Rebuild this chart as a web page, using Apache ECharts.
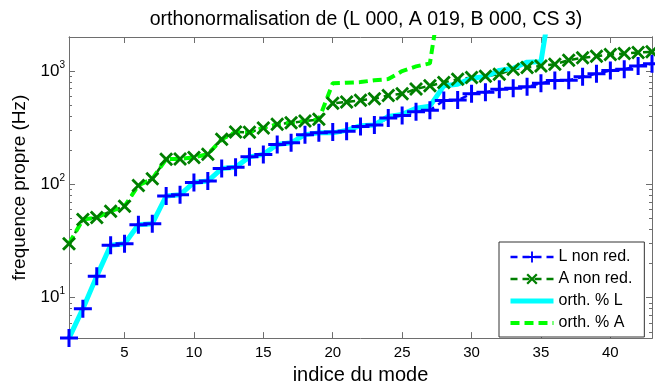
<!DOCTYPE html>
<html>
<head>
<meta charset="utf-8">
<script src="https://cdn.jsdelivr.net/npm/echarts@6/dist/echarts.min.js"></script>
<style>
html, body { margin: 0; padding: 0; background: #fff; }
#chart { width: 655px; height: 390px; }
</style>
</head>
<body>
<div id="chart"></div>
<script>
// indice du mode
var modes = [1, 2, 3, 4, 5, 6, 7, 8, 9, 10, 11, 12, 13, 14, 15, 16, 17, 18, 19, 20, 21,
    22, 23, 24, 25, 26, 27, 28, 29, 30, 31, 32, 33, 34, 35, 36, 37, 38, 39, 40, 41, 42, 43];
// frequences propres (Hz)
var lNonRed = [4.4, 8.0, 15.5, 29, 30, 44, 45, 79, 81, 104, 107, 138, 142, 175, 184, 225, 233, 275, 285, 290, 295,
    325, 335, 385, 405, 437, 451, 550, 555, 630, 650, 690, 705, 727, 780, 827, 830, 890, 950, 1010, 1040, 1110, 1160];
var aNonRed = [30, 49, 51, 58, 64, 98, 112, 167, 168, 173, 185, 250, 290, 288, 315, 340, 350, 362, 375, 520, 535,
    552, 570, 610, 630, 695, 742, 793, 847, 876, 900, 940, 1040, 1075, 1110, 1150, 1250, 1310, 1350, 1400, 1430, 1460, 1480];
var orthL = [4.4, 8.0, 15.5, 29, 30, 44, 45, 79, 81, 104, 107, 138, 142, 175, 184, 225, 233, 275, 285, 285, 300,
    330, 335, 398, 415, 470, 490, 742, 767, 865, 895, 1015, 1060, 1200, 1210, 7000, 8000, 9000, 10000, 11000, 12000, 13000, 14000];
var orthA = [30, 49, 51, 58, 64, 98, 112, 167, 168, 173, 185, 250, 290, 288, 315, 340, 350, 362, 375, 780, 790,
    800, 830, 850, 1000, 1100, 1170, 7200, 9000, 10000, 11000, 12000, 13000, 14000, 15000, 16000, 17000, 18000, 19000, 20000, 21000, 22000, 23000];

var xTicks = [5, 10, 15, 20, 25, 30, 35, 40];
var yTicks = [10, 100, 1000];
var yMinorTicks = [5, 6, 7, 8, 9, 20, 30, 40, 50, 60, 70, 80, 90, 200, 300, 400, 500, 600, 700, 800, 900];

var font = 'Liberation Sans, Arial, sans-serif';
var axisGray = '#6e6e6e';

function pairs(vals) {
    return modes.map(function (m, i) { return [m, vals[i]]; });
}

var chart = echarts.init(document.getElementById('chart'));

//  axes: bottom/left with labels, top/right mirrored like matlab "box on"
function xAxis(pos, labels) {
    return {
        type: 'value', position: pos, min: 1, max: 43,
        axisLine: { show: true, onZero: false, lineStyle: { color: axisGray, width: 1 } },
        axisTick: { show: true, inside: true, length: 6, customValues: xTicks, lineStyle: { color: axisGray } },
        axisLabel: { show: labels, customValues: xTicks, margin: 7, fontSize: 15, color: '#000', fontFamily: font },
        splitLine: { show: false }
    };
}
function yAxis(pos, ticks, len, labels) {
    return {
        type: 'log', logBase: 10, position: pos, min: 4.4, max: 2000,
        axisLine: { show: true, onZero: false, lineStyle: { color: axisGray, width: 1 } },
        axisTick: { show: true, inside: true, length: len, customValues: ticks, lineStyle: { color: axisGray } },
        axisLabel: {
            show: labels, customValues: ticks, margin: 4, color: '#000', fontFamily: font,
            formatter: function (v) {
                return '{b|10}{e|' + Math.round(Math.log(v) / Math.LN10) + '}';
            },
            rich: {
                b: { fontSize: 17, fontFamily: font, color: '#000' },
                e: { fontSize: 10, fontFamily: font, color: '#000', padding: [0, 0, 12, 0] }
            }
        },
        splitLine: { show: false }
    };
}

var xa = xAxis('bottom', true);
xa.name = 'indice du mode';
xa.nameLocation = 'middle';
xa.nameGap = 24;
xa.nameTextStyle = { fontSize: 20, color: '#000', fontFamily: font };

var ya = yAxis('left', yTicks, 6, true);
ya.name = 'frequence propre (Hz)';
ya.nameLocation = 'middle';
ya.nameGap = 36;
ya.nameTextStyle = { fontSize: 19, color: '#000', fontFamily: font };

var plusPath = 'path://M0,7.5H18V10.5H0Z M7.5,0H10.5V18H7.5Z';
var crossPath = 'path://M0,2L2,0L7,5L12,0L14,2L9,7L14,12L12,14L7,9L2,14L0,12L5,7Z';

var option = {
    animation: false,
    backgroundColor: '#fff',
    title: {
        text: 'orthonormalisation de (L 000, A 019, B 000, CS 3)',
        left: 361, top: 5, textAlign: 'center',
        textStyle: { fontSize: 19.5, fontWeight: 'normal', color: '#000', fontFamily: font }
    },
    grid: { left: 69, right: 3, top: 37, bottom: 46, containLabel: false },
    legend: {
        orient: 'vertical', left: 499, top: 242,
        itemWidth: 43, itemHeight: 14, itemGap: 6, itemTextGap: 9,
        padding: [7, 12, 6, 9],
        borderColor: '#333', borderWidth: 1, backgroundColor: '#fff',
        textStyle: { fontSize: 16, color: '#000', fontFamily: font },
        data: [
            { name: 'L non red.', lineStyle: { width: 2.5 } },
            { name: 'A non red.', lineStyle: { width: 2.5 } },
            { name: 'orth. % L', itemStyle: { opacity: 0 }, lineStyle: { width: 5 } },
            { name: 'orth. % A', itemStyle: { opacity: 0 }, lineStyle: { width: 4 } }
        ]
    },
    xAxis: [xa, xAxis('top', false)],
    yAxis: [ya, yAxis('left', yMinorTicks, 3, false), yAxis('right', yTicks, 6, false), yAxis('right', yMinorTicks, 3, false)],
    series: [
        {
            name: 'L non red.', type: 'line', data: pairs(lNonRed),
            symbol: plusPath, symbolSize: 18, showAllSymbol: true,
            itemStyle: { color: '#0000ff' },
            lineStyle: { color: '#0000ff', width: 2.5, type: [7, 5] }
        },
        {
            name: 'A non red.', type: 'line', data: pairs(aNonRed),
            symbol: crossPath, symbolSize: 14, showAllSymbol: true,
            itemStyle: { color: '#007f00' },
            lineStyle: { color: '#007f00', width: 2.5, type: [7, 5] }
        },
        {
            name: 'orth. % L', type: 'line', data: pairs(orthL),
            symbol: 'none', itemStyle: { color: '#00ffff' },
            lineStyle: { color: '#00ffff', width: 5 }
        },
        {
            name: 'orth. % A', type: 'line', data: pairs(orthA),
            symbol: 'none', itemStyle: { color: '#00ff00' },
            lineStyle: { color: '#00ff00', width: 4, type: [9, 5] }
        }
    ]
};
chart.setOption(option);
</script>
</body>
</html>
